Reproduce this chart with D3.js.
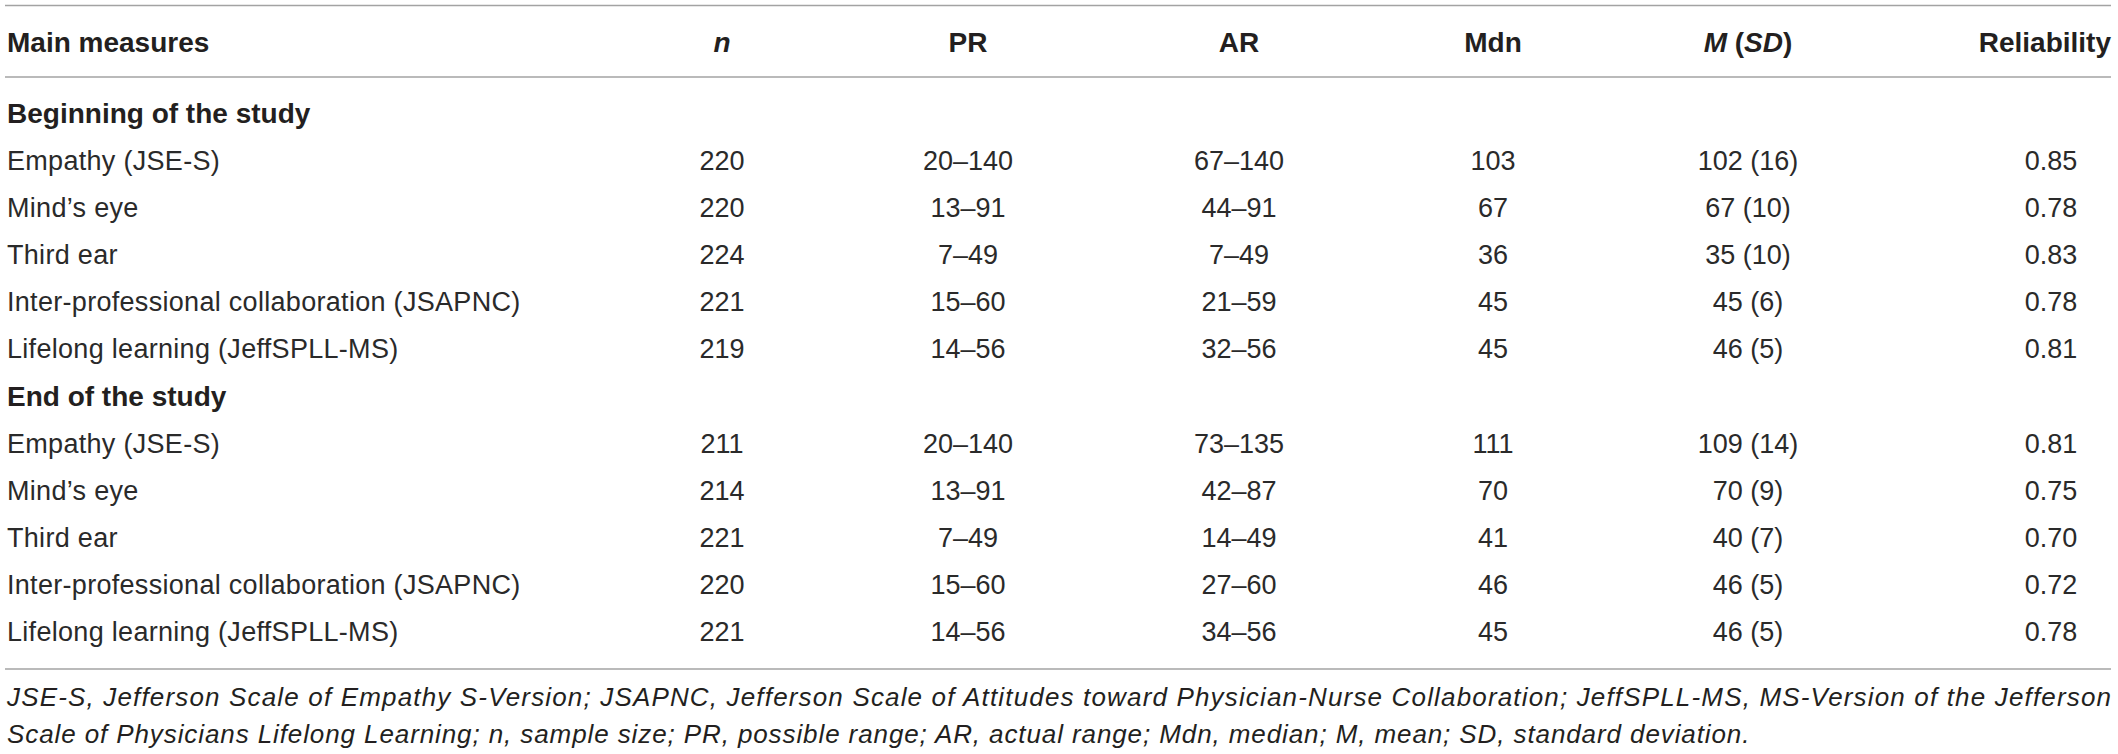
<!DOCTYPE html>
<html>
<head>
<meta charset="utf-8">
<script src="https://cdn.jsdelivr.net/npm/d3@7"></script>
<style>
  html, body { margin: 0; padding: 0; background: #fff; }
  svg { display: block; }
  text { font-family: "Liberation Sans", Arial, Helvetica, sans-serif; fill: #231f20; }
</style>
</head>
<body>
<svg id="chart" width="2118" height="754"></svg>
<script>
// ---- data ----
const headers = ["Main measures", "n", "PR", "AR", "Mdn", "M (SD)", "Reliability"];
const sections = ["Beginning of the study", "End of the study"];
const measures = ["Empathy (JSE-S)", "Mind’s eye", "Third ear",
  "Inter-professional collaboration (JSAPNC)", "Lifelong learning (JeffSPLL-MS)"];

const nBegin   = [220, 220, 224, 221, 219];
const prBegin  = ["20–140", "13–91", "7–49", "15–60", "14–56"];
const arBegin  = ["67–140", "44–91", "7–49", "21–59", "32–56"];
const mdnBegin = [103, 67, 36, 45, 45];
const meanBegin = [102, 67, 35, 45, 46];
const sdBegin  = [16, 10, 10, 6, 5];
const relBegin = ["0.85", "0.78", "0.83", "0.78", "0.81"];

const nEnd   = [211, 214, 221, 220, 221];
const prEnd  = ["20–140", "13–91", "7–49", "15–60", "14–56"];
const arEnd  = ["73–135", "42–87", "14–49", "27–60", "34–56"];
const mdnEnd = [111, 70, 41, 46, 45];
const meanEnd = [109, 70, 40, 46, 46];
const sdEnd  = [14, 9, 7, 5, 5];
const relEnd = ["0.81", "0.75", "0.70", "0.72", "0.78"];

const footnote1 = "JSE-S, Jefferson Scale of Empathy S-Version; JSAPNC, Jefferson Scale of Attitudes toward Physician-Nurse Collaboration; JeffSPLL-MS, MS-Version of the Jefferson";
const footnote2 = "Scale of Physicians Lifelong Learning; n, sample size; PR, possible range; AR, actual range; Mdn, median; M, mean; SD, standard deviation.";

// ---- build rows ----
function block(n, pr, ar, mdn, mean, sd, rel) {
  return measures.map((m, i) => ({
    type: "row",
    cells: [m, String(n[i]), pr[i], ar[i], String(mdn[i]), `${mean[i]} (${sd[i]})`, rel[i]]
  }));
}
const rows = [
  { type: "section", label: sections[0] },
  ...block(nBegin, prBegin, arBegin, mdnBegin, meanBegin, sdBegin, relBegin),
  { type: "section", label: sections[1] },
  ...block(nEnd, prEnd, arEnd, mdnEnd, meanEnd, sdEnd, relEnd)
];

// ---- layout ----
const svg = d3.select("#chart");
const left = 7, right = 2111;
const lineColor = "#a3a3a3";

const colX = d3.scaleOrdinal().domain(d3.range(7)).range([left, 722, 968, 1239, 1493, 1748, 2051]);
const rowY = d3.scaleLinear().domain([0, rows.length - 1]).range([113, 632]);

const bodySize = 27, headSize = 28, noteSize = 26;

// rules
[5.5, 77, 669].forEach(y => {
  svg.append("line").attr("x1", 5).attr("x2", right).attr("y1", y).attr("y2", y)
    .attr("stroke", lineColor).attr("stroke-width", 1.6);
});

// header
const hy = 42;
const hg = svg.append("g").attr("font-weight", "bold").attr("font-size", headSize);
headers.forEach((h, i) => {
  const t = hg.append("text").attr("y", hy).attr("dy", "0.35em");
  if (i === 0) {
    t.attr("x", colX(0)).attr("text-anchor", "start").text(h);
  } else if (i === 6) {
    t.attr("x", right).attr("text-anchor", "end").text(h);
  } else if (i === 1) {
    t.attr("x", colX(i)).attr("text-anchor", "middle").attr("font-style", "italic").text(h);
  } else if (i === 5) {
    t.attr("x", colX(i)).attr("text-anchor", "middle");
    t.append("tspan").attr("font-style", "italic").text("M");
    t.append("tspan").text(" (");
    t.append("tspan").attr("font-style", "italic").text("SD");
    t.append("tspan").text(")");
  } else {
    t.attr("x", colX(i)).attr("text-anchor", "middle").text(h);
  }
});

// body rows
const rg = svg.selectAll("g.row").data(rows).join("g").attr("class", "row")
  .attr("transform", (d, i) => `translate(0,${rowY(i)})`);

rg.filter(d => d.type === "section").append("text")
  .attr("x", colX(0)).attr("dy", "0.35em")
  .attr("font-weight", "bold").attr("font-size", headSize)
  .text(d => d.label);

rg.filter(d => d.type === "row").selectAll("text")
  .data(d => d.cells).join("text")
  .attr("x", (c, i) => colX(i))
  .attr("dy", "0.35em")
  .attr("font-size", bodySize)
  .attr("letter-spacing", (c, i) => i === 0 ? 0.3 : 0)
  .attr("text-anchor", (c, i) => i === 0 ? "start" : "middle")
  .style("fill", "#2a2a2a")
  .text(c => c);

// footnote
const fg = svg.append("g").attr("font-style", "italic").attr("font-size", noteSize).style("fill", "#2a2a2a");
fg.append("text").attr("x", left).attr("y", 697).attr("dy", "0.35em")
  .attr("textLength", right - left).attr("lengthAdjust", "spacing").text(footnote1);
fg.append("text").attr("x", left).attr("y", 734).attr("dy", "0.35em")
  .attr("letter-spacing", 0.9).text(footnote2);
</script>
</body>
</html>
